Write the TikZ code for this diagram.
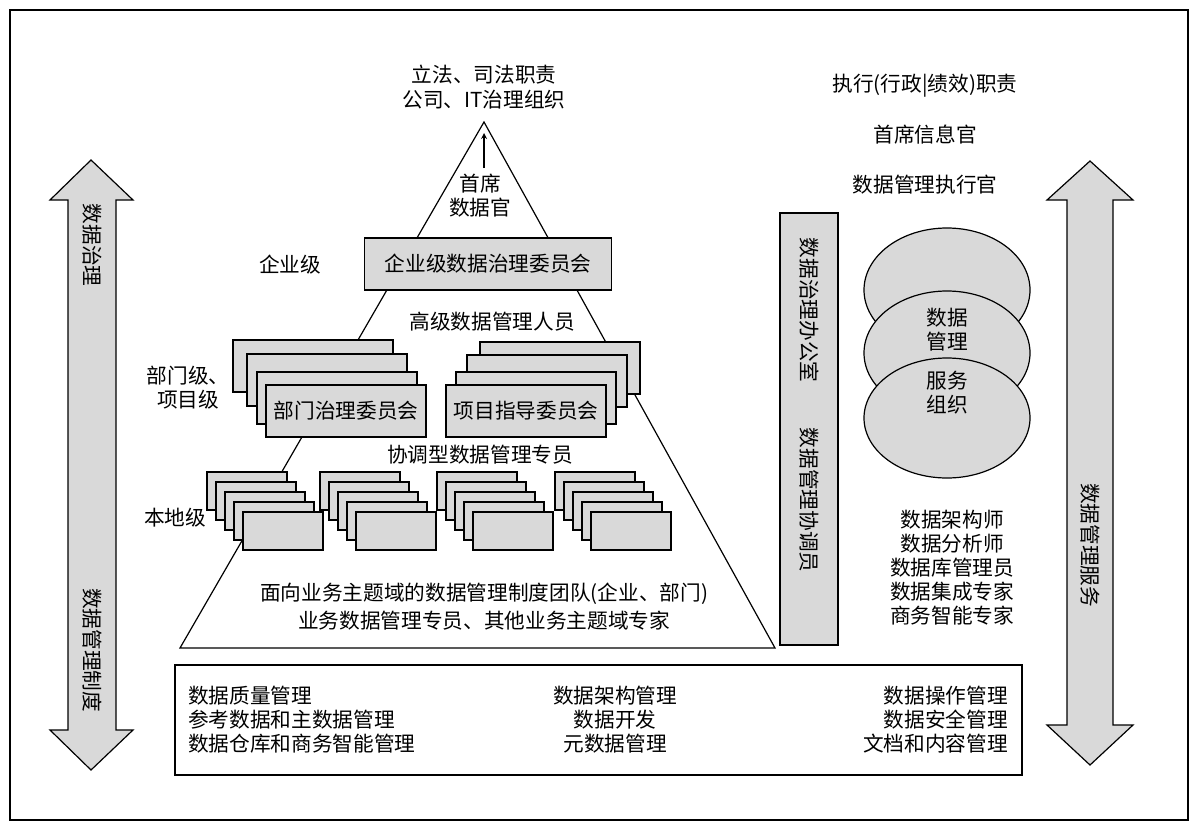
\documentclass[tikz,border=0pt]{standalone}
\usepackage{fontspec}
\setmainfont{Noto Sans CJK SC}
\begin{document}
\begin{tikzpicture}[x=0.75pt,y=-0.75pt,
  g/.style={draw=black,fill=gray!30,line width=0.9pt},
  t/.style={font=\fontsize{15.5}{18}\selectfont,inner sep=0pt},
  vt/.style={t,rotate=-90}]
\useasboundingbox (0,0) rectangle (1199,832);
\draw[line width=0.9pt] (10,10) rectangle (1188,820);
% left arrow
\draw[g] (91,160)--(133,200)--(116,200)--(116,730)--(133,730)--(91,770)--(50,730)--(68,730)--(68,200)--(50,200)--cycle;
\node[vt] (lg) at (92,245) {数据治理};
\node[vt] (lz) at (92,650) {数据管理制度};
% right arrow
\draw[g] (1090,161)--(1133,200)--(1113,200)--(1113,725)--(1133,725)--(1090,765)--(1047,725)--(1067,725)--(1067,200)--(1047,200)--cycle;
\node[vt] (rs) at (1090,545) {数据管理服务};
% pyramid
\draw[line width=0.9pt] (484,122) coordinate (apex)--(180,648)--(775,648)--cycle;
\coordinate (a1) at (484,168); \coordinate (a2) at (484,133);
\draw[->,>=stealth,line width=1pt] (a1)--(a2);
\node[t] (l1) at (484,75) {立法、司法职责};
\node[t] (l2) at (484,100) {公司、IT治理组织};
\node[t,align=center] (cdo) at (480,196) {首席\\数据官};
\node[g,t,minimum width=185.25pt,minimum height=39pt] (ent) at (488,264) {企业级数据治理委员会};
\node[t] (entl) at (290,265) {企业级};
\node[t,fill=white,inner sep=2pt] (sdm) at (492,322) {高级数据管理人员};
% dept stacks
\foreach \x/\y in {233/340,247/354,257/372}{\draw[g] (\x,\y) rectangle ++(160,52);}
\node[g,t,minimum width=120pt,minimum height=39pt] (dept) at (346,411) {部门治理委员会};
\foreach \x/\y in {480/342,467/355,456/372}{\draw[g] (\x,\y) rectangle ++(160,52);}
\node[g,t,minimum width=120pt,minimum height=39pt] (proj) at (526,411) {项目指导委员会};
\node[t,align=center] (dl) at (188,388) {部门级、\\项目级};
\node[t,fill=white,inner sep=2pt] (coord) at (480,455) {协调型数据管理专员};
% local stacks
\foreach \gx in {207,320,437,555}{
  \foreach \i in {0,...,4}{\draw[g] (\gx+9*\i,472+10*\i) rectangle ++(80,38);}
}
\node[t] (loc) at (175,518) {本地级};
\node[t,fill=white,inner sep=2pt] (b1) at (484,594) {面向业务主题域的数据管理制度团队(企业、部门)};
\node[t,fill=white,inner sep=2pt] (b2) at (484,621) {业务数据管理专员、其他业务主题域专家};
% office bar
\draw[g] (780,213) rectangle (838,645);
\node[vt] (off) at (809,310) {数据治理办公室};
\node[vt] (cor) at (809,500) {数据管理协调员};
% right top
\node[t] (ex) at (925,86) {执行(行政|绩效)职责};
\node[t] (cio) at (925,135) {首席信息官};
\node[t] (cde) at (925,185) {数据管理执行官};
\draw[g] (947,290) ellipse (83 and 62);
\draw[g] (947,353) ellipse (83 and 62);
\draw[g] (947,418) ellipse (83 and 60);
\node[t,align=center] (dms) at (947,330) {数据\\管理};
\node[t,align=center] (svc) at (947,393) {服务\\组织};
\node[t,align=center] (roles) at (952,568) {数据架构师\\数据分析师\\数据库管理员\\数据集成专家\\商务智能专家};
% bottom box
\draw[line width=0.9pt] (175,665) rectangle (1022,775);
\node[t,align=left,anchor=west] (c1) at (188,720) {数据质量管理\\参考数据和主数据管理\\数据仓库和商务智能管理};
\node[t,align=center] (c2) at (615,720) {数据架构管理\\数据开发\\元数据管理};
\node[t,align=right,anchor=east] (c3) at (1008,720) {数据操作管理\\数据安全管理\\文档和内容管理};
\end{tikzpicture}
\end{document}
